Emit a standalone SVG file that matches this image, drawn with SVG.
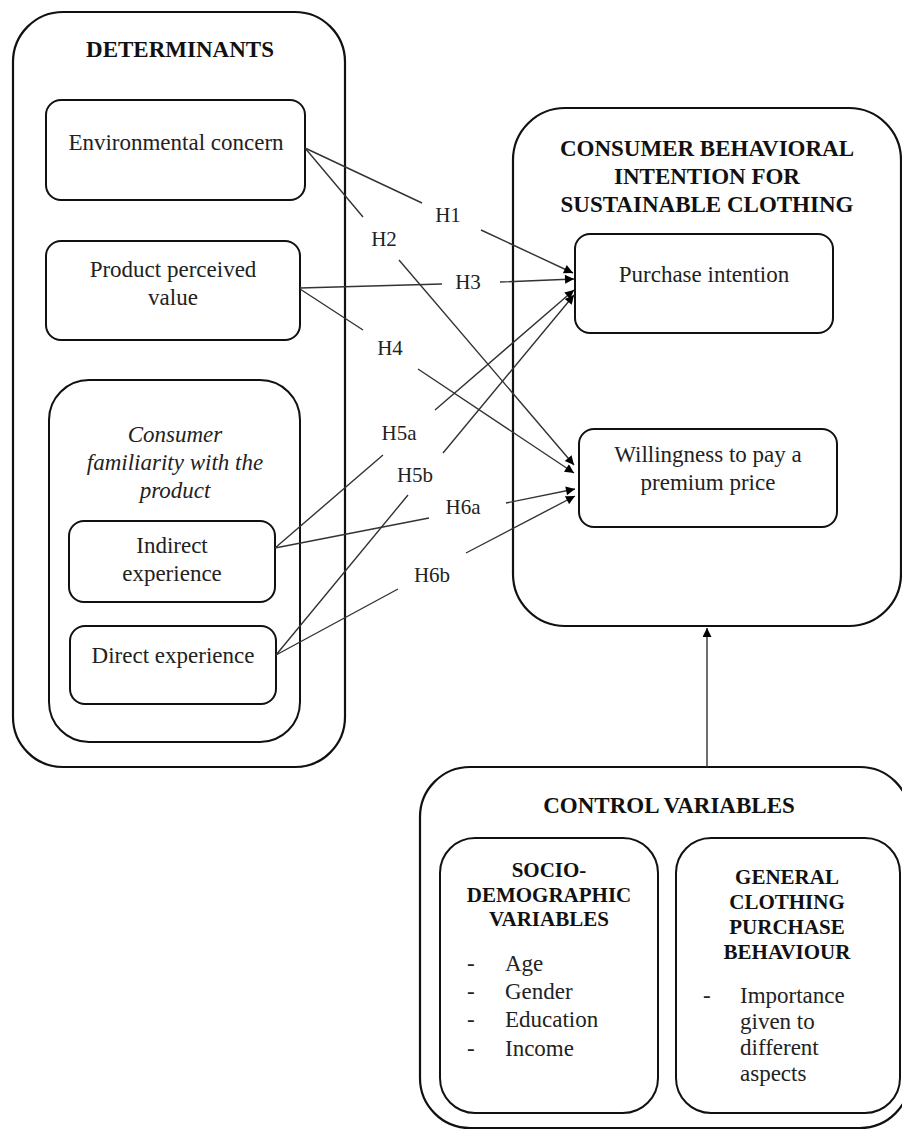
<svg xmlns="http://www.w3.org/2000/svg" width="902" height="1131" viewBox="0 0 902 1131">
<style>
text{font-family:"Liberation Serif",serif}
.box{fill:none;stroke:#111;stroke-width:2.2}
.ibox{fill:none;stroke:#111;stroke-width:2}
.t{font-family:"Liberation Serif",serif;font-size:23px;fill:#222}
.b{font-weight:bold;fill:#111}
.s{font-size:21px}
.c{text-anchor:middle}
.i{font-style:italic}
.h{font-family:"Liberation Serif",serif;font-size:21px;fill:#222;text-anchor:middle}
.ln{fill:none;stroke:#333;stroke-width:1.4}
</style>
<defs>
<marker id="ah" viewBox="0 0 10 10" refX="10" refY="5" markerWidth="12" markerHeight="9" markerUnits="userSpaceOnUse" orient="auto">
<path d="M0,0 L10,5 L0,10 z" fill="#000"/>
</marker>
</defs>
<rect width="902" height="1131" fill="#fff"/>

<g id="determinants">
<rect class="box" x="13" y="12" width="332" height="755" rx="50"/>
<text class="t b c" x="180" y="57">DETERMINANTS</text>
</g>
<g id="env-concern">
<rect class="ibox" x="46" y="100" width="259" height="100" rx="15"/>
<text class="t c" x="176" y="150">Environmental concern</text>
</g>
<g id="perceived-value">
<rect class="ibox" x="46" y="241" width="254" height="99" rx="15"/>
<text class="t c" x="173" y="277">Product perceived</text>
<text class="t c" x="173" y="305">value</text>
</g>
<g id="familiarity">
<rect class="ibox" x="49" y="380" width="251" height="362" rx="40"/>
<text class="t c i" x="175" y="442">Consumer</text>
<text class="t c i" x="175" y="470">familiarity with the</text>
<text class="t c i" x="175" y="498">product</text>
</g>
<g id="indirect">
<rect class="ibox" x="69" y="521" width="206" height="81" rx="15"/>
<text class="t c" x="172" y="553">Indirect</text>
<text class="t c" x="172" y="581">experience</text>
</g>
<g id="direct">
<rect class="ibox" x="70" y="626" width="206" height="78" rx="15"/>
<text class="t c" x="173" y="663">Direct experience</text>
</g>

<g id="intention">
<rect class="box" x="513" y="108" width="388" height="518" rx="52"/>
<text class="t b c" x="707" y="156">CONSUMER BEHAVIORAL</text>
<text class="t b c" x="707" y="184">INTENTION FOR</text>
<text class="t b c" x="707" y="212">SUSTAINABLE CLOTHING</text>
</g>
<g id="purchase">
<rect class="ibox" x="575" y="234" width="258" height="99" rx="15"/>
<text class="t c" x="704" y="282">Purchase intention</text>
</g>
<g id="willingness">
<rect class="ibox" x="579" y="429" width="258" height="98" rx="15"/>
<text class="t c" x="708" y="462">Willingness to pay a</text>
<text class="t c" x="708" y="490">premium price</text>
</g>

<g id="control">
<rect class="box" x="420" y="767" width="490" height="361" rx="50"/>
<text class="t b c" x="669" y="813">CONTROL VARIABLES</text>
</g>
<g id="socio">
<rect class="ibox" x="440" y="838" width="218" height="275" rx="35"/>
<text class="t b c s" x="549" y="877">SOCIO-</text>
<text class="t b c s" x="549" y="902">DEMOGRAPHIC</text>
<text class="t b c s" x="549" y="926">VARIABLES</text>
<text class="t" x="467" y="971">-</text><text class="t" x="505" y="971">Age</text>
<text class="t" x="467" y="999">-</text><text class="t" x="505" y="999">Gender</text>
<text class="t" x="467" y="1027">-</text><text class="t" x="505" y="1027">Education</text>
<text class="t" x="467" y="1056">-</text><text class="t" x="505" y="1056">Income</text>
</g>
<g id="general">
<rect class="ibox" x="676" y="838" width="224" height="275" rx="35"/>
<text class="t b c s" x="787" y="884">GENERAL</text>
<text class="t b c s" x="787" y="909">CLOTHING</text>
<text class="t b c s" x="787" y="934">PURCHASE</text>
<text class="t b c s" x="787" y="959">BEHAVIOUR</text>
<text class="t" x="703" y="1003">-</text><text class="t" x="740" y="1003">Importance</text>
<text class="t" x="740" y="1029">given to</text>
<text class="t" x="740" y="1055">different</text>
<text class="t" x="740" y="1081">aspects</text>
</g>

<g id="connectors">
<path class="ln" d="M305,148 L422,203 M481,230 L573,273" marker-end="url(#ah)"/>
<path class="ln" d="M305,148 L363,217 M399,260 L574,465" marker-end="url(#ah)"/>
<path class="ln" d="M300,288 L442,284 M500,282 L574,279" marker-end="url(#ah)"/>
<path class="ln" d="M300,289 L363,330 M418,369 L574,473" marker-end="url(#ah)"/>
<path class="ln" d="M275,548 L383,455 M435,410 L574,290" marker-end="url(#ah)"/>
<path class="ln" d="M276,655 L408,495 M443,453 L574,295" marker-end="url(#ah)"/>
<path class="ln" d="M275,548 L429,518 M506,503 L575,489" marker-end="url(#ah)"/>
<path class="ln" d="M276,655 L398,589 M466,553 L575,496" marker-end="url(#ah)"/>
<path class="ln" d="M707,767 L707,628" marker-end="url(#ah)"/>
<text class="h" x="448" y="222">H1</text>
<text class="h" x="384" y="246">H2</text>
<text class="h" x="468" y="289">H3</text>
<text class="h" x="390" y="355">H4</text>
<text class="h" x="399" y="440">H5a</text>
<text class="h" x="415" y="482">H5b</text>
<text class="h" x="463" y="514">H6a</text>
<text class="h" x="432" y="582">H6b</text>
</g>
</svg>
